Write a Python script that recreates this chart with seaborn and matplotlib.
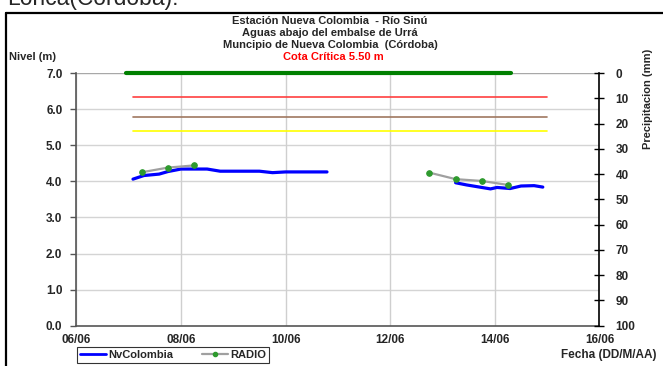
import numpy as np
import pandas as pd
import matplotlib
matplotlib.use("Agg")
import matplotlib.pyplot as plt
import matplotlib.dates as mdates
from matplotlib.lines import Line2D
import seaborn as sns

# ---------------- data ----------------
nv_times = ["2012-06-07 02:00", "2012-06-07 07:00", "2012-06-07 14:00", "2012-06-07 18:00",
            "2012-06-08 00:00", "2012-06-08 12:00", "2012-06-08 18:00", "2012-06-09 12:00",
            "2012-06-09 18:00", "2012-06-10 00:00", "2012-06-10 13:00", "2012-06-10 19:00",
            "2012-06-13 06:00", "2012-06-13 11:00", "2012-06-13 17:00", "2012-06-13 22:00",
            "2012-06-14 01:00", "2012-06-14 07:00", "2012-06-14 12:00", "2012-06-14 18:00",
            "2012-06-14 22:00"]
nv_level = [4.06, 4.16, 4.20, 4.27, 4.34, 4.34, 4.28, 4.28, 4.24, 4.26, 4.26, 4.26,
            3.96, 3.90, 3.84, 3.79, 3.83, 3.80, 3.87, 3.88, 3.84]
nv_segment = [1] * 12 + [2] * 9

radio_times = ["2012-06-07 06:00", "2012-06-07 18:00", "2012-06-08 06:00",
               "2012-06-12 18:00", "2012-06-13 06:00", "2012-06-13 18:00", "2012-06-14 06:00"]
radio_level = [4.25, 4.38, 4.44, 4.24, 4.06, 4.01, 3.90]
radio_segment = [1, 1, 1, 2, 2, 2, 2]

green_times = ["2012-06-06 23:00", "2012-06-14 07:30"]
green_level = [7.0, 7.0]
alert_times = ["2012-06-07 02:00", "2012-06-15 00:00"]
red_level = [6.33, 6.33]
brown_level = [5.79, 5.79]
yellow_level = [5.39, 5.39]

title_lines = ["Estación Nueva Colombia  - Río Sinú",
               "Aguas abajo del embalse de Urrá",
               "Muncipio de Nueva Colombia  (Córdoba)"]
critical_label = "Cota Crítica 5.50 m"
left_ticks = [0, 1, 2, 3, 4, 5, 6, 7]
right_ticks = [0, 10, 20, 30, 40, 50, 60, 70, 80, 90, 100]
x_start, x_end = "2012-06-06", "2012-06-16"

# ---------------- frames ----------------
nv_df = pd.DataFrame({"t": pd.to_datetime(nv_times), "nivel": nv_level, "seg": nv_segment})
radio_df = pd.DataFrame({"t": pd.to_datetime(radio_times), "nivel": radio_level, "seg": radio_segment})

sns.set_style("white")
plt.rcParams["font.family"] = ["Liberation Sans", "DejaVu Sans"]
plt.rcParams["font.weight"] = "bold"

fig = plt.figure(figsize=(6.63, 3.66), dpi=100)
ax = fig.add_axes([0.1151, 0.1101, 0.7891, 0.6904])

ax.set_xlim(pd.Timestamp(x_start), pd.Timestamp(x_end))
ax.set_ylim(0, 7)

# gridlines
for v in left_ticks[1:-1]:
    ax.axhline(v, color="#d4d4d4", lw=1.0, zorder=0)
ax.axhline(7.0, color="#a8a8a8", lw=1.0, zorder=0)
ax.xaxis.set_major_locator(mdates.DayLocator(interval=2))
ax.xaxis.set_major_formatter(mdates.DateFormatter("%d/%m"))
ax.grid(axis="x", color="#cfcfcf", lw=1.0)
ax.set_axisbelow(True)

# threshold lines
sns.lineplot(x=pd.to_datetime(alert_times), y=red_level, color="#ff4040", lw=1.2, ax=ax, zorder=2)
sns.lineplot(x=pd.to_datetime(alert_times), y=brown_level, color="#a07860", lw=1.2, ax=ax, zorder=2)
sns.lineplot(x=pd.to_datetime(alert_times), y=yellow_level, color="#ffff00", lw=1.2, ax=ax, zorder=2)
sns.lineplot(x=pd.to_datetime(green_times), y=green_level, color="#008000", lw=3.0, ax=ax, zorder=3,
             clip_on=False)

# series
sns.lineplot(data=nv_df, x="t", y="nivel", units="seg", estimator=None, color="#0000ff",
             lw=2.3, ax=ax, zorder=4)
sns.lineplot(data=radio_df, x="t", y="nivel", units="seg", estimator=None, color="#a0a0a0",
             lw=1.6, marker="o", markersize=4, markerfacecolor="#2e9a2e",
             markeredgecolor="#2e9a2e", ax=ax, zorder=5)

ax.set_xlabel("")
ax.set_ylabel("")
ax.set_yticks(left_ticks)
ax.set_yticklabels([f"{v:.1f}" for v in left_ticks])
for s in ["top", "right"]:
    ax.spines[s].set_visible(False)
for s in ["left", "bottom"]:
    ax.spines[s].set_color("#555555")
    ax.spines[s].set_linewidth(1.2)
ax.tick_params(axis="y", direction="out", length=4, width=1, color="#555555",
               labelsize=8.5, pad=6)
ax.tick_params(axis="x", direction="out", length=3, width=1, color="#555555",
               labelsize=8.5, pad=3)
for lab in ax.get_xticklabels() + ax.get_yticklabels():
    lab.set_fontweight("bold")

# right axis
ax2 = ax.twinx()
ax2.set_ylim(100, 0)
ax2.set_yticks(right_ticks)
ax2.set_yticklabels([str(v) for v in right_ticks])
for s in ["top", "left", "bottom"]:
    ax2.spines[s].set_visible(False)
ax2.spines["right"].set_color("black")
ax2.spines["right"].set_linewidth(1.2)
ax2.tick_params(axis="y", direction="inout", length=7, width=1, color="black",
                labelsize=8.5, pad=8)
for lab in ax2.get_yticklabels():
    lab.set_fontweight("bold")
ax2.grid(False)
fig.text(0.977, 0.73, "Precipitacion (mm)", rotation=90, ha="center", va="center",
         fontsize=8, fontweight="bold")

# titles
ys = [1 - 21 / 366, 1 - 33 / 366, 1 - 45 / 366]
for y, t in zip(ys, title_lines):
    fig.text(0.498, y, t, ha="center", va="center", fontsize=8, fontweight="bold")
fig.text(0.503, 1 - 57.5 / 366, critical_label, ha="center", va="center", fontsize=8,
         fontweight="bold", color="#ff0000")
fig.text(0.014, 1 - 57 / 366, "Nivel (m)", ha="left", va="center", fontsize=8, fontweight="bold")
fig.text(0.99, 1 - 355 / 366, "Fecha (DD/M/AA)", ha="right", va="center", fontsize=8.5,
         fontweight="bold")

# cropped caption above frame
fig.text(0.011, 1 - 5 / 366, "Lorica(Córdoba):", ha="left", va="baseline", fontsize=16.5,
         fontweight="normal")

# frame
fig.add_artist(Line2D([0.0098, 0.0098], [0, 1 - 12.5 / 366], color="black", lw=1.6,
                      transform=fig.transFigure))
fig.add_artist(Line2D([0.0098, 1.0], [1 - 12.5 / 366, 1 - 12.5 / 366], color="black", lw=1.6,
                      transform=fig.transFigure))

# legend
handles = [Line2D([], [], color="#0000ff", lw=2.0),
           Line2D([], [], color="#a0a0a0", lw=1.6, marker="o", markersize=3,
                  markerfacecolor="#2e9a2e", markeredgecolor="#2e9a2e")]
leg = fig.legend(handles, ["NvColombia", "RADIO"], loc="center left",
                 bbox_to_anchor=(0.108, 1 - 355 / 366), ncol=2, frameon=True, fancybox=False,
                 prop={"size": 8, "weight": "bold"}, handlelength=2.3, handletextpad=0.2,
                 columnspacing=2.6, borderpad=0.3, borderaxespad=0.5, edgecolor="black")
leg.get_frame().set_linewidth(0.8)

fig.savefig("out.png", dpi=100)
